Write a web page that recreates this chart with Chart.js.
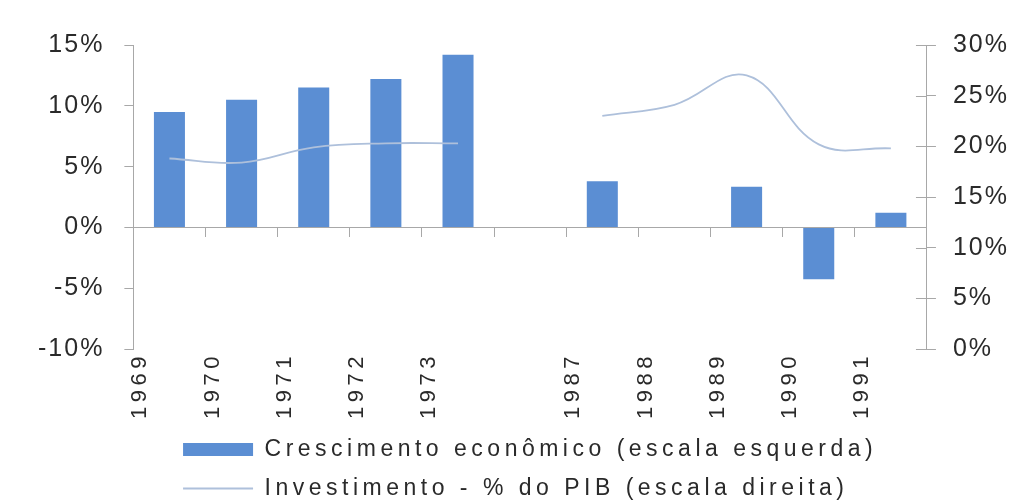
<!DOCTYPE html>
<html>
<head>
<meta charset="utf-8">
<script src="https://cdn.jsdelivr.net/npm/chart.js@4.4.1/dist/chart.umd.min.js"></script>
<style>
  html, body { margin: 0; padding: 0; background: #ffffff; }
  canvas { display: block; }
</style>
</head>
<body>
<canvas id="chart" width="1014" height="503"></canvas>
<script>
// Categories (one empty slot separates the two periods)
const years = ['1969', '1970', '1971', '1972', '1973', '', '1987', '1988', '1989', '1990', '1991'];
// Crescimento econômico, % (left scale)
const growth = [9.5, 10.5, 11.5, 12.2, 14.2, null, 3.8, 0, 3.35, -4.25, 1.2];
// Investimento, % do PIB (right scale)
const investment = [18.8, 18.4, 19.9, 20.3, 20.3, null, 23.0, 24.1, 27.0, 20.2, 19.8];
// Axis ranges and tick step
const leftRange = [-10, 15];
const rightRange = [0, 30];
const tickStep = 5;
const seriesNames = ['Crescimento econômico (escala esquerda)', 'Investimento - % do PIB (escala direita)'];

const barColor = '#5B8ED3';
const lineColor = '#AEC0DB';
const axisColor = '#A8A8A8';
const textColor = '#2A2A2A';
const family = "'Liberation Sans', Arial, sans-serif";
const spacing = '4.5px';       // legend and year labels
const valueSpacing = '2px';    // percentage tick labels
const pct = v => v + '%';

// Wide letter spacing for canvas text
const spacedText = {
  id: 'spacedText',
  afterInit(chart) { chart.ctx.letterSpacing = spacing; },
  beforeUpdate(chart) { chart.ctx.letterSpacing = spacing; },
  beforeDraw(chart) {
    chart.ctx.letterSpacing = spacing;
    ['y', 'y1'].forEach(id => {
      const s = chart.scales[id];
      if (s && !s._tightLabels) {
        const draw = s.drawLabels;
        s.drawLabels = function (area) {
          const c = this.ctx;
          const prev = c.letterSpacing;
          c.letterSpacing = valueSpacing;
          draw.call(this, area);
          c.letterSpacing = prev;
        };
        s._tightLabels = true;
      }
    });
  }
};

// Start every legend row at the same x
const legendRows = {
  id: 'legendRows',
  beforeDraw(chart) {
    const lg = chart.legend;
    if (lg && lg.lineWidths && lg.lineWidths.length) {
      const m = Math.max(...lg.lineWidths);
      lg.lineWidths = lg.lineWidths.map(() => m);
    }
  }
};

// Right axis tick marks cross the axis line
const crossTicks = {
  id: 'crossTicks',
  afterDraw(chart) {
    const s = chart.scales.y1;
    if (!s) return;
    const c = chart.ctx;
    c.save();
    c.strokeStyle = axisColor;
    c.lineWidth = 1;
    c.beginPath();
    s.ticks.forEach(t => {
      const py = Math.round(s.getPixelForValue(t.value)) + 0.5;
      c.moveTo(s.left - 11, py);
      c.lineTo(s.left, py);
    });
    c.stroke();
    c.restore();
  }
};

// Percentage axes measure their labels with the tighter spacing
const valueAxisHooks = {
  beforeUpdate: s => { s.ctx.letterSpacing = valueSpacing; },
  afterUpdate: s => { s.ctx.letterSpacing = spacing; }
};

new Chart(document.getElementById('chart'), {
  type: 'bar',
  data: {
    labels: years,
    datasets: [
      {
        type: 'bar',
        label: seriesNames[0],
        data: growth,
        yAxisID: 'y',
        backgroundColor: barColor,
        borderWidth: 0,
        barPercentage: 0.43,
        categoryPercentage: 1.0,
        pointStyle: 'rect',
        order: 1
      },
      {
        type: 'line',
        label: seriesNames[1],
        data: investment,
        yAxisID: 'y1',
        borderColor: lineColor,
        backgroundColor: lineColor,
        borderWidth: 1.8,
        pointRadius: 0,
        pointStyle: 'line',
        tension: 0.4,
        spanGaps: false,
        order: 0
      }
    ]
  },
  options: {
    responsive: false,
    animation: false,
    devicePixelRatio: 1,
    layout: { padding: { top: 45, left: 18, right: -12, bottom: -7 } },
    scales: {
      x: {
        type: 'category',
        offset: true,
        grid: { display: false, drawTicks: false },
        border: { display: false },
        ticks: {
          autoSkip: false,
          minRotation: 90,
          maxRotation: 90,
          padding: 3,
          labelOffset: -29,
          color: textColor,
          font: { family, size: 22 }
        }
      },
      x2: {
        type: 'category',
        position: { y: 0 },
        offset: true,
        grid: { offset: true, drawOnChartArea: false, tickLength: 9, color: axisColor, lineWidth: 1 },
        border: { display: true, color: axisColor, width: 1 },
        ticks: { display: false }
      },
      y: {
        position: 'left',
        min: leftRange[0],
        max: leftRange[1],
        grid: { drawOnChartArea: false, tickLength: 9, color: axisColor },
        border: { color: axisColor },
        ticks: { stepSize: tickStep, callback: pct, padding: 20, color: textColor, font: { family, size: 25 } },
        ...valueAxisHooks
      },
      y1: {
        position: 'right',
        min: rightRange[0],
        max: rightRange[1],
        grid: { drawOnChartArea: false, tickLength: 9, color: axisColor },
        border: { color: axisColor },
        ticks: { stepSize: tickStep, callback: pct, padding: 17, color: textColor, font: { family, size: 25 } },
        ...valueAxisHooks
      }
    },
    plugins: {
      tooltip: { enabled: false },
      legend: {
        position: 'bottom',
        fullSize: false,
        labels: {
          usePointStyle: true,
          pointStyleWidth: 70,
          boxHeight: 13,
          padding: 16,
          color: textColor,
          font: { family, size: 23 },
          sort: (a, b) => a.datasetIndex - b.datasetIndex
        }
      }
    }
  },
  plugins: [spacedText, legendRows, crossTicks]
});
</script>
</body>
</html>
